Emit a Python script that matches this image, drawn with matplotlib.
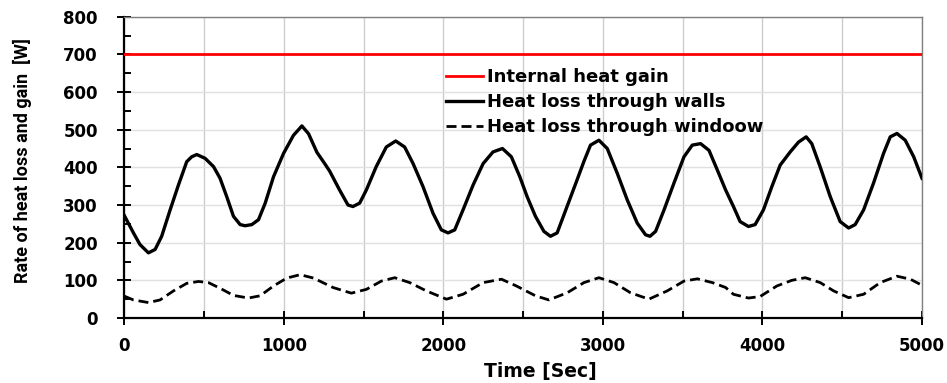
import numpy as np
import matplotlib.pyplot as plt
from matplotlib.ticker import MultipleLocator

# time axis values [s] and heat flows [W]
wall_time = [0, 57, 98, 151, 193, 234, 287, 339, 391, 422, 454, 506, 559, 600, 642,
             684, 726, 757, 799, 841, 883, 935, 998, 1060, 1113, 1155, 1207, 1259,
             1287, 1349, 1402, 1433, 1475, 1517, 1579, 1642, 1701, 1757, 1810, 1872,
             1935, 1987, 2029, 2071, 2123, 2186, 2249, 2311, 2370, 2426, 2479, 2525,
             2577, 2630, 2671, 2713, 2776, 2839, 2881, 2922, 2975, 3027, 3090, 3152,
             3215, 3267, 3295, 3330, 3383, 3445, 3508, 3560, 3612, 3665, 3717, 3769,
             3818, 3860, 3912, 3954, 4006, 4059, 4111, 4174, 4226, 4274, 4309, 4362,
             4425, 4487, 4540, 4581, 4634, 4696, 4759, 4801, 4843, 4895, 4948, 5000]
wall_loss = [272, 226, 195, 173, 182, 217, 287, 353, 415, 428, 434, 424, 402, 371, 322,
             270, 248, 245, 248, 261, 305, 375, 437, 485, 510, 489, 440, 408,
             390, 340, 300, 296, 305, 340, 402, 454, 470, 454, 410, 349,
             278, 234, 226, 234, 287, 353, 410, 441, 450, 428, 375, 322,
             270, 230, 217, 226, 297, 368, 416, 459, 472, 450, 384, 314,
             252, 221, 217, 230, 287, 358, 428, 459, 463, 445, 393, 340,
             296, 256, 243, 248, 287, 349, 406, 441, 467, 481, 463, 401,
             322, 256, 239, 248, 287, 358, 437, 481, 490, 472, 428, 371]

window_time = [0, 57, 151, 224, 308, 391, 465, 527, 600, 684, 778, 851, 935, 1018, 1102,
               1186, 1259, 1308, 1423, 1517, 1611, 1695, 1789, 1893, 2019, 2123, 2249,
               2364, 2458, 2577, 2661, 2776, 2881, 2975, 3069, 3173, 3288, 3403, 3508,
               3592, 3686, 3769, 3818, 3912, 3985, 4090, 4184, 4268, 4362, 4446, 4540,
               4634, 4738, 4843, 4927, 5000]
window_loss = [58, 48, 41, 48, 72, 92, 97, 94, 79, 60, 53, 59, 85, 106, 115,
               106, 91, 81, 66, 76, 98, 107, 94, 72, 50, 63, 94,
               103, 85, 59, 48, 67, 94, 107, 94, 67, 50, 72, 98,
               104, 94, 81, 63, 53, 57, 85, 100, 107, 94, 72, 54,
               63, 94, 111, 103, 87]

internal_gain = 700
t_max = 5000

fig = plt.figure(figsize=(9.47, 3.83), dpi=100)
ax = fig.add_axes([0.1313, 0.1697, 0.8423, 0.7867])

ax.plot([0, t_max], [internal_gain, internal_gain], color='#ff0000', lw=2.0,
        label='Internal heat gain', zorder=3)
ax.plot(wall_time, wall_loss, color='black', lw=2.4, solid_joinstyle='round',
        label='Heat loss through walls', zorder=3)
ax.plot(window_time, window_loss, color='black', lw=2.0, linestyle=(0, (3.6, 1.8)),
        label='Heat loss through windoow', zorder=3)

ax.set_xlim(0, t_max)
ax.set_ylim(0, 800)
ax.xaxis.set_major_locator(MultipleLocator(1000))
ax.xaxis.set_minor_locator(MultipleLocator(500))
ax.yaxis.set_major_locator(MultipleLocator(100))
ax.yaxis.set_minor_locator(MultipleLocator(50))

ax.grid(axis='x', which='both', color='#cccccc', lw=1.0, zorder=0)
ax.grid(axis='y', which='major', color='#e0e0e0', lw=1.0, zorder=0)

for side in ['left', 'bottom']:
    ax.spines[side].set_linewidth(1.6)
    ax.spines[side].set_color('black')
for side in ['top', 'right']:
    ax.spines[side].set_linewidth(1.0)
    ax.spines[side].set_color('#808080')

ax.tick_params(which='major', direction='inout', length=10, width=1.4, color='black')
ax.tick_params(which='minor', direction='in', length=5, width=1.4, color='black')
ax.tick_params(axis='y', which='major', pad=14)
ax.tick_params(axis='x', which='major', pad=9)
for lbl in ax.get_xticklabels() + ax.get_yticklabels():
    lbl.set_fontsize(12)
    lbl.set_fontweight('bold')

ax.set_xlabel('Time [Sec]', fontsize=13.5, fontweight='bold')
ax.xaxis.label.set_verticalalignment('center')
ax.xaxis.set_label_coords(0.522, -0.179)

ax.set_ylabel('Rate of heat loss and gain  [W]', fontsize=13, fontweight='bold',
              family=['Liberation Sans Narrow', 'Roboto', 'DejaVu Sans'])
ax.yaxis.label.set_verticalalignment('center')
ax.yaxis.set_label_coords(-0.128, 0.524)

ax.legend(loc='upper left', bbox_to_anchor=(0.403, 0.83), frameon=False,
          prop={'weight': 'bold', 'size': 13}, handlelength=2.05,
          handletextpad=0.22, labelspacing=0.4, borderpad=0, borderaxespad=0)

fig.savefig('out.png', dpi=100)
